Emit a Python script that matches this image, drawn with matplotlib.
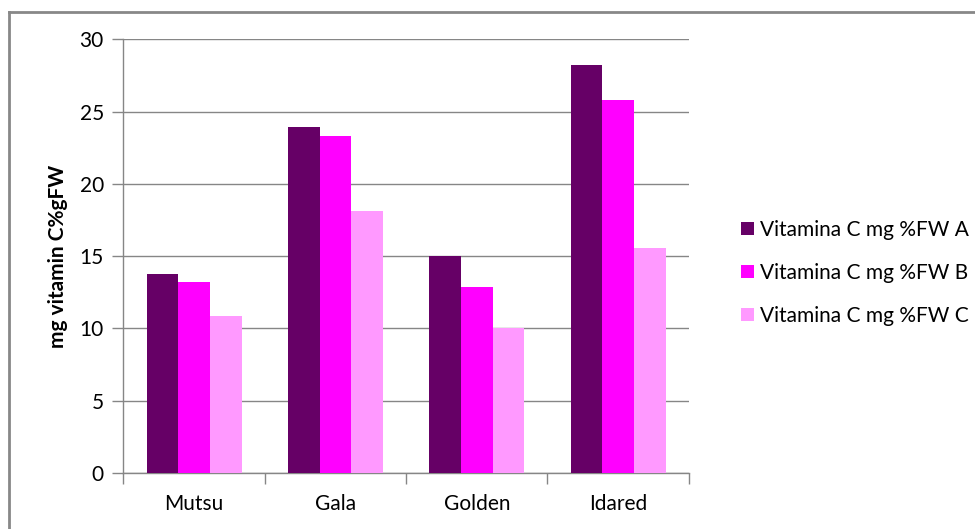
import numpy as np
import matplotlib.pyplot as plt
from matplotlib.lines import Line2D

plt.rcParams['font.family'] = ['Lato', 'DejaVu Sans']

# data
cultivars = ['Mutsu', 'Gala', 'Golden', 'Idared']
series_names = ['Vitamina C mg %FW A', 'Vitamina C mg %FW B', 'Vitamina C mg %FW C']
vit_a = [13.75, 23.95, 15.0, 28.25]
vit_b = [13.2, 23.3, 12.87, 25.8]
vit_c = [10.85, 18.1, 10.0, 15.6]
colors = ['#660066', '#FF00FF', '#FF99FF']

fig = plt.figure(figsize=(9.75, 5.29), dpi=100)
ax = fig.add_axes([0.1265, 0.1059, 0.580, 0.8196])

x = np.arange(len(cultivars))
w = 0.224
for i, (vals, name) in enumerate(zip([vit_a, vit_b, vit_c], series_names)):
	ax.bar(x + (i - 1) * w, vals, width=w, color=colors[i], label=name, zorder=3)

# axes formatting
ax.set_xlim(-0.5, 3.5)
ax.set_ylim(0, 30)
ax.set_yticks(range(0, 31, 5))
ax.yaxis.grid(True, color='#868686', linewidth=1, zorder=0)
ax.set_xticks(x)
ax.set_xticklabels(cultivars)
ax.set_xticks(np.arange(-0.5, 4, 1), minor=True)
ax.tick_params(axis='x', which='major', length=0, pad=15, labelsize=15)
ax.tick_params(axis='x', which='minor', length=8, color='#868686', width=1)
ax.tick_params(axis='y', length=8, color='#868686', width=1, labelsize=15, pad=6)
for s in ['top', 'right']:
	ax.spines[s].set_visible(False)
for s in ['left', 'bottom']:
	ax.spines[s].set_color('#868686')
	ax.spines[s].set_linewidth(1)

ax.set_ylabel('mg vitamin C%gFW', fontsize=15, fontweight='bold', va='center')
ax.yaxis.set_label_coords(-0.115, 0.5)

leg = fig.legend(loc='upper left', bbox_to_anchor=(0.749, 0.604), frameon=False,
	fontsize=15, handlelength=0.62, handleheight=0.62, handletextpad=0.3,
	labelspacing=1.1, borderpad=0)

# chart area border (left and top)
fig.add_artist(Line2D([9/975, 9/975], [0, 1 - 12/529], color='#888888', lw=2))
fig.add_artist(Line2D([9/975, 1], [1 - 12/529, 1 - 12/529], color='#888888', lw=2))

fig.savefig('out.png', dpi=100)
